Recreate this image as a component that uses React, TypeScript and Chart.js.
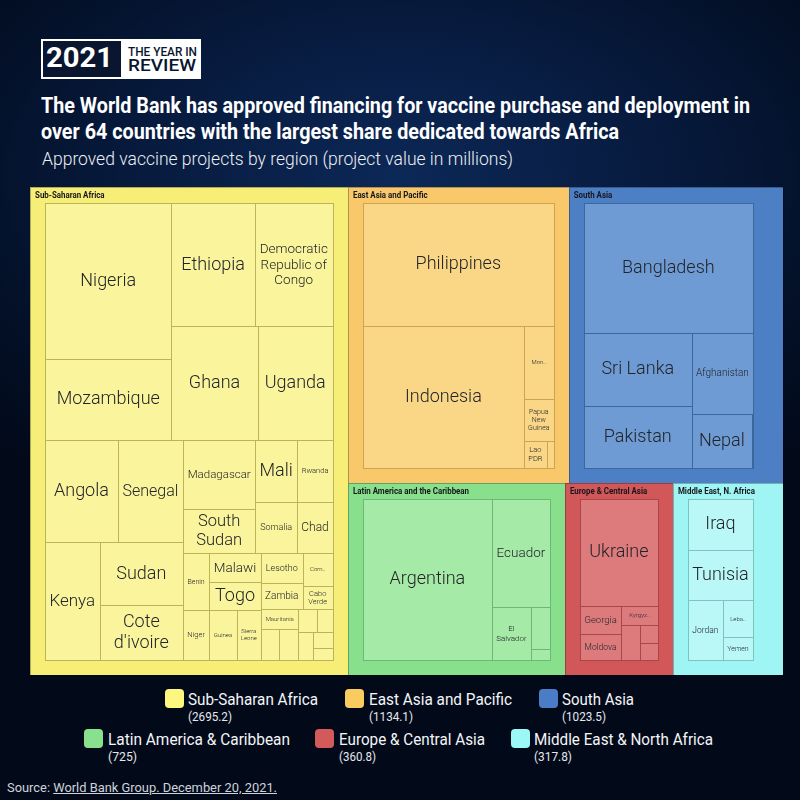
import React, { useEffect, useRef } from 'react';
import { Chart, registerables } from 'chart.js';

Chart.register(...registerables);

// ---------------- data ----------------
const regionNames = [
  'Sub-Saharan Africa',
  'East Asia and Pacific',
  'South Asia',
  'Latin America and the Caribbean',
  'Europe & Central Asia',
  'Middle East, N. Africa',
];
const legendNames = [
  'Sub-Saharan Africa',
  'East Asia and Pacific',
  'South Asia',
  'Latin America & Caribbean',
  'Europe & Central Asia',
  'Middle East & North Africa',
];
const regionTotals = [2695.2, 1134.1, 1023.5, 725, 360.8, 317.8];

const ssaCountries = [
  'Nigeria', 'Mozambique', 'Ethiopia', 'Democratic Republic of Congo', 'Ghana', 'Uganda',
  'Angola', 'Senegal', 'Kenya', 'Sudan', "Cote d'ivoire",
  'Madagascar', 'South Sudan', 'Mali', 'Rwanda', 'Somalia', 'Chad',
  'Benin', 'Malawi', 'Togo', 'Niger', 'Guinea', 'Sierra Leone',
  'Lesotho', 'Zambia', 'Comoros', 'Cabo Verde',
  'Mauritania', 'Burkina Faso', 'Eswatini', 'Guinea-Bissau', 'Liberia', 'Gambia', 'Sao Tome and Principe', 'Central African Republic',
];
const ssaValues = [
  403, 212, 210, 198, 201, 176,
  152, 136, 131.7, 107.5, 94,
  101.6, 65, 52.6, 45, 44, 37.7,
  30, 31, 29, 27, 28.5, 25,
  25.3, 22.7, 20.3, 14.8,
  15.2, 11.5, 12.1, 8.5, 7.6, 8.1, 6.6, 4.9,
];

const eapCountries = ['Philippines', 'Indonesia', 'Mongolia', 'Papua New Guinea', 'Lao PDR', 'Timor-Leste'];
const eapValues = [526, 513, 49, 28, 14, 4.1];

const saCountries = ['Bangladesh', 'Sri Lanka', 'Pakistan', 'Afghanistan', 'Nepal', 'Maldives'];
const saValues = [502, 180, 153, 113, 74, 1.5];

const lacCountries = ['Argentina', 'Ecuador', 'El Salvador', 'Honduras', 'Bolivia'];
const lacValues = [500, 151, 50, 19, 5];

const ecaCountries = ['Ukraine', 'Georgia', 'Moldova', 'Kyrgyz Republic', 'North Macedonia', 'Tajikistan', 'Kosovo'];
const ecaValues = [239.2, 33.5, 31, 20, 19, 9.3, 8.8];

const menaCountries = ['Iraq', 'Tunisia', 'Jordan', 'Lebanon', 'Yemen'];
const menaValues = [101, 99, 63.5, 33.5, 20.8];

const regionCountries = [ssaCountries, eapCountries, saCountries, lacCountries, ecaCountries, menaCountries];
const regionValues = [ssaValues, eapValues, saValues, lacValues, ecaValues, menaValues];

// ---------------- styles ----------------
const regionColors = ['#f7ee78', '#f8c86a', '#4d7fc4', '#88df8c', '#d15759', '#9ff5f3'];
const cellColors = ['#faf59c', '#fad687', '#6e9bd4', '#a5eaa7', '#dd7b7c', '#b9f8f6'];
const lineColors = ['#bdb45a', '#cfa450', '#3d659e', '#6db872', '#a9464b', '#7cc4c2'];
const legendColors = ['#fdf67f', '#f9cc60', '#4b7cc6', '#88e18c', '#d35a5a', '#9cf8f6'];

const LAYOUT_W = 738;
const LAYOUT_H = 488;
const AXIS_W = 753;
const PAD = { t: 16, l: 15, r: 15, b: 15 };

type Rect = { x0: number; y0: number; x1: number; y1: number };

function binaryLayout(values: number[], x0: number, y0: number, x1: number, y1: number): Rect[] {
  const n = values.length;
  const sums = [0];
  for (let i = 0; i < n; i++) sums.push(sums[i] + values[i]);
  const out: Rect[] = new Array(n);
  function partition(i: number, j: number, value: number, x0: number, y0: number, x1: number, y1: number) {
    if (i >= j - 1) {
      out[i] = { x0, y0, x1, y1 };
      return;
    }
    const valueOffset = sums[i];
    const valueTarget = value / 2 + valueOffset;
    let k = i + 1;
    let hi = j - 1;
    while (k < hi) {
      const mid = (k + hi) >>> 1;
      if (sums[mid] < valueTarget) k = mid + 1;
      else hi = mid;
    }
    if (valueTarget - sums[k - 1] < sums[k] - valueTarget && i + 1 < k) --k;
    const valueLeft = sums[k] - valueOffset;
    const valueRight = value - valueLeft;
    if (x1 - x0 > y1 - y0) {
      const xk = (x0 * valueRight + x1 * valueLeft) / value;
      partition(i, k, valueLeft, x0, y0, xk, y1);
      partition(k, j, valueRight, xk, y0, x1, y1);
    } else {
      const yk = (y0 * valueRight + y1 * valueLeft) / value;
      partition(i, k, valueLeft, x0, y0, x1, yk);
      partition(k, j, valueRight, x0, yk, x1, y1);
    }
  }
  partition(0, n, sums[n], x0, y0, x1, y1);
  return out;
}

const CELL_FONT = (s: number) => `300 ${s}px Roboto, "Noto Sans", sans-serif`;

function fitLabel(ctx: CanvasRenderingContext2D, name: string, w: number, h: number) {
  if (w < 21 || h < 12) return null;
  const aw = w - 8;
  const ah = h - 6;
  const words = name.split(' ');
  for (let s = 18; s >= 6; s -= 0.5) {
    ctx.font = CELL_FONT(s);
    const lh = s * 1.15;
    if (ctx.measureText(name).width <= aw && lh <= ah) return { s, lines: [name] };
    if (words.length > 1) {
      const lines: string[] = [];
      let cur = words[0];
      let ok = ctx.measureText(cur).width <= aw;
      for (let i = 1; i < words.length && ok; i++) {
        const t = cur + ' ' + words[i];
        if (ctx.measureText(t).width <= aw) cur = t;
        else {
          lines.push(cur);
          cur = words[i];
          if (ctx.measureText(cur).width > aw) ok = false;
        }
      }
      lines.push(cur);
      if (ok && lines.length * lh <= ah) return { s, lines };
    }
  }
  ctx.font = CELL_FONT(6);
  const tw = aw * 0.8;
  for (let len = name.length - 1; len >= 1; len--) {
    const t = name.slice(0, len).trimEnd() + '..';
    if (ctx.measureText(t).width <= tw && 6.9 <= ah) return { s: 6, lines: [t] };
  }
  return null;
}

const treemapPlugin = {
  id: 'treemapCells',
  afterDatasetsDraw(chart: any) {
    const ctx: CanvasRenderingContext2D = chart.ctx;
    const xs = chart.scales.x;
    const ys = chart.scales.y;
    const px = (v: number) => Math.round(xs.getPixelForValue(v));
    const py = (v: number) => Math.round(ys.getPixelForValue(v));
    ctx.save();
    ctx.lineWidth = 1;
    const regions = binaryLayout(regionTotals, 0, 0, LAYOUT_W, LAYOUT_H);
    regions.forEach((r, ri) => {
      const rx1 = r.x1 >= LAYOUT_W - 1e-6 ? AXIS_W : r.x1;
      const X0 = px(r.x0), Y0 = py(r.y0), X1 = px(rx1), Y1 = py(r.y1);
      ctx.fillStyle = regionColors[ri];
      ctx.fillRect(X0, Y0, X1 - X0, Y1 - Y0);
      ctx.strokeStyle = 'rgba(0,0,0,0.28)';
      ctx.strokeRect(X0 + 0.5, Y0 + 0.5, X1 - X0, Y1 - Y0);
    });
    regions.forEach((r, ri) => {
      const cells = binaryLayout(regionValues[ri], r.x0 + PAD.l, r.y0 + PAD.t, r.x1 - PAD.r, r.y1 - PAD.b);
      cells.forEach((c) => {
        const X0 = px(c.x0), Y0 = py(c.y0), X1 = px(c.x1), Y1 = py(c.y1);
        ctx.fillStyle = cellColors[ri];
        ctx.fillRect(X0, Y0, X1 - X0, Y1 - Y0);
      });
      ctx.strokeStyle = lineColors[ri];
      cells.forEach((c) => {
        const X0 = px(c.x0), Y0 = py(c.y0), X1 = px(c.x1), Y1 = py(c.y1);
        ctx.strokeRect(X0 + 0.5, Y0 + 0.5, X1 - X0, Y1 - Y0);
      });
      ctx.fillStyle = '#222428';
      ctx.textAlign = 'center';
      ctx.textBaseline = 'middle';
      cells.forEach((c, ci) => {
        const X0 = xs.getPixelForValue(c.x0), X1 = xs.getPixelForValue(c.x1);
        const Y0 = ys.getPixelForValue(c.y0), Y1 = ys.getPixelForValue(c.y1);
        const fit = fitLabel(ctx, regionCountries[ri][ci], X1 - X0, Y1 - Y0);
        if (!fit) return;
        ctx.font = CELL_FONT(fit.s);
        const lh = fit.s * 1.15;
        const cx = (X0 + X1) / 2;
        const cy = (Y0 + Y1) / 2;
        fit.lines.forEach((line, li) => {
          ctx.fillText(line, cx, cy + (li - (fit.lines.length - 1) / 2) * lh + 0.5);
        });
      });
      // region header
      ctx.save();
      ctx.fillStyle = '#15171c';
      ctx.textAlign = 'left';
      ctx.textBaseline = 'middle';
      ctx.font = 'bold 9px Roboto, sans-serif';
      ctx.translate(xs.getPixelForValue(r.x0) + 5, ys.getPixelForValue(r.y0) + 9);
      ctx.scale(0.88, 1);
      ctx.fillText(regionNames[ri], 0, 0);
      ctx.restore();
    });
    ctx.restore();
  },
};

// ---------------- text helpers ----------------
let measureCtx: CanvasRenderingContext2D | null = null;
function measure(text: string, size: number, weight: number) {
  if (!measureCtx) measureCtx = document.createElement('canvas').getContext('2d');
  measureCtx!.font = `${weight} ${size}px Roboto`;
  return measureCtx!.measureText(text).width;
}

function FitText(props: {
  text: string;
  x: number;
  baseline: number;
  width: number;
  size: number;
  weight?: number;
  color?: string;
  children?: React.ReactNode;
}) {
  const { text, x, baseline, width, size, weight = 400, color = '#ffffff', children } = props;
  const mw = measure(text, size, weight);
  const s = mw > 0 ? width / mw : 1;
  return (
    <div
      style={{
        position: 'absolute',
        left: x,
        top: baseline - 0.84 * size,
        fontFamily: 'Roboto, sans-serif',
        fontSize: size,
        fontWeight: weight,
        lineHeight: `${size}px`,
        whiteSpace: 'nowrap',
        color,
        transform: `scaleX(${s})`,
        transformOrigin: 'left top',
      }}
    >
      {children ?? text}
    </div>
  );
}

const legendSwatchX = [165, 345, 539, 84, 315, 511];
const legendLabelX = [188, 369, 562, 108, 339, 534];
const legendLabelW = [130, 143, 72, 182, 146, 179];
const legendValueW = [44, 44, 44, 29, 37, 38];
const legendRowTop = [689, 729];

export default function App() {
  const canvasRef = useRef<HTMLCanvasElement>(null);

  useEffect(() => {
    const chart = new Chart(canvasRef.current as HTMLCanvasElement, {
      type: 'scatter',
      data: { datasets: [{ data: [], pointRadius: 0 }] },
      options: {
        animation: false,
        responsive: false,
        maintainAspectRatio: false,
        layout: { padding: { left: 30, right: 17, top: 7, bottom: 5 } },
        scales: {
          x: { type: 'linear', min: 0, max: AXIS_W, display: false },
          y: { type: 'linear', min: 0, max: LAYOUT_H, reverse: true, display: false },
        },
        plugins: { legend: { display: false }, tooltip: { enabled: false }, title: { display: false } },
      },
      plugins: [treemapPlugin],
    } as any);
    return () => chart.destroy();
  }, []);

  const sourceRest = 'World Bank Group. December 20, 2021.';

  return (
    <div
      style={{
        position: 'absolute',
        left: 0,
        top: 0,
        width: 800,
        height: 800,
        overflow: 'hidden',
        fontFamily: 'Roboto, sans-serif',
        background:
          'radial-gradient(ellipse 75% 45% at 50% 22%, #0c2857 0%, #071a3d 45%, #031027 75%, #020a1a 100%)',
      }}
    >
      {/* badge */}
      <div style={{ position: 'absolute', left: 41, top: 39, width: 160, height: 40, background: '#ffffff' }} />
      <div style={{ position: 'absolute', left: 43, top: 41, width: 78, height: 36, background: '#0a1630' }} />
      <FitText text="2021" x={46} baseline={68} width={67} size={27} weight={700} />
      <FitText text="THE YEAR IN" x={128} baseline={56} width={69} size={12.5} weight={500} color="#0a1630" />
      <FitText text="REVIEW" x={128} baseline={71} width={68} size={17} weight={500} color="#0a1630" />

      {/* title */}
      <FitText
        text="The World Bank has approved financing for vaccine purchase and deployment in"
        x={41}
        baseline={113}
        width={709}
        size={22}
        weight={700}
      />
      <FitText
        text="over 64 countries with the largest share dedicated towards Africa"
        x={41}
        baseline={139}
        width={578}
        size={22}
        weight={700}
      />
      <FitText
        text="Approved vaccine projects by region (project value in millions)"
        x={42}
        baseline={166}
        width={471}
        size={17.5}
        weight={300}
        color="#eef0f4"
      />

      <canvas ref={canvasRef} width={800} height={500} style={{ position: 'absolute', left: 0, top: 180 }} />

      {/* legend */}
      {legendNames.map((name, i) => {
        const row = i < 3 ? 0 : 1;
        const top = legendRowTop[row];
        return (
          <React.Fragment key={name}>
            <div
              style={{
                position: 'absolute',
                left: legendSwatchX[i],
                top,
                width: 19,
                height: 19,
                borderRadius: 4,
                background: legendColors[i],
              }}
            />
            <FitText text={name} x={legendLabelX[i]} baseline={top + 16} width={legendLabelW[i]} size={17} weight={400} color="#f4f5f7" />
            <FitText
              text={`(${regionTotals[i]})`}
              x={legendLabelX[i]}
              baseline={top + 32}
              width={legendValueW[i]}
              size={12.5}
              weight={400}
              color="#e6e8ec"
            />
          </React.Fragment>
        );
      })}

      {/* source */}
      <FitText text={'Source: ' + sourceRest} x={7} baseline={792} width={270} size={13.5} weight={400} color="#cfd3da">
        <span>Source: </span>
        <span style={{ textDecoration: 'underline' }}>{sourceRest}</span>
      </FitText>
    </div>
  );
}
